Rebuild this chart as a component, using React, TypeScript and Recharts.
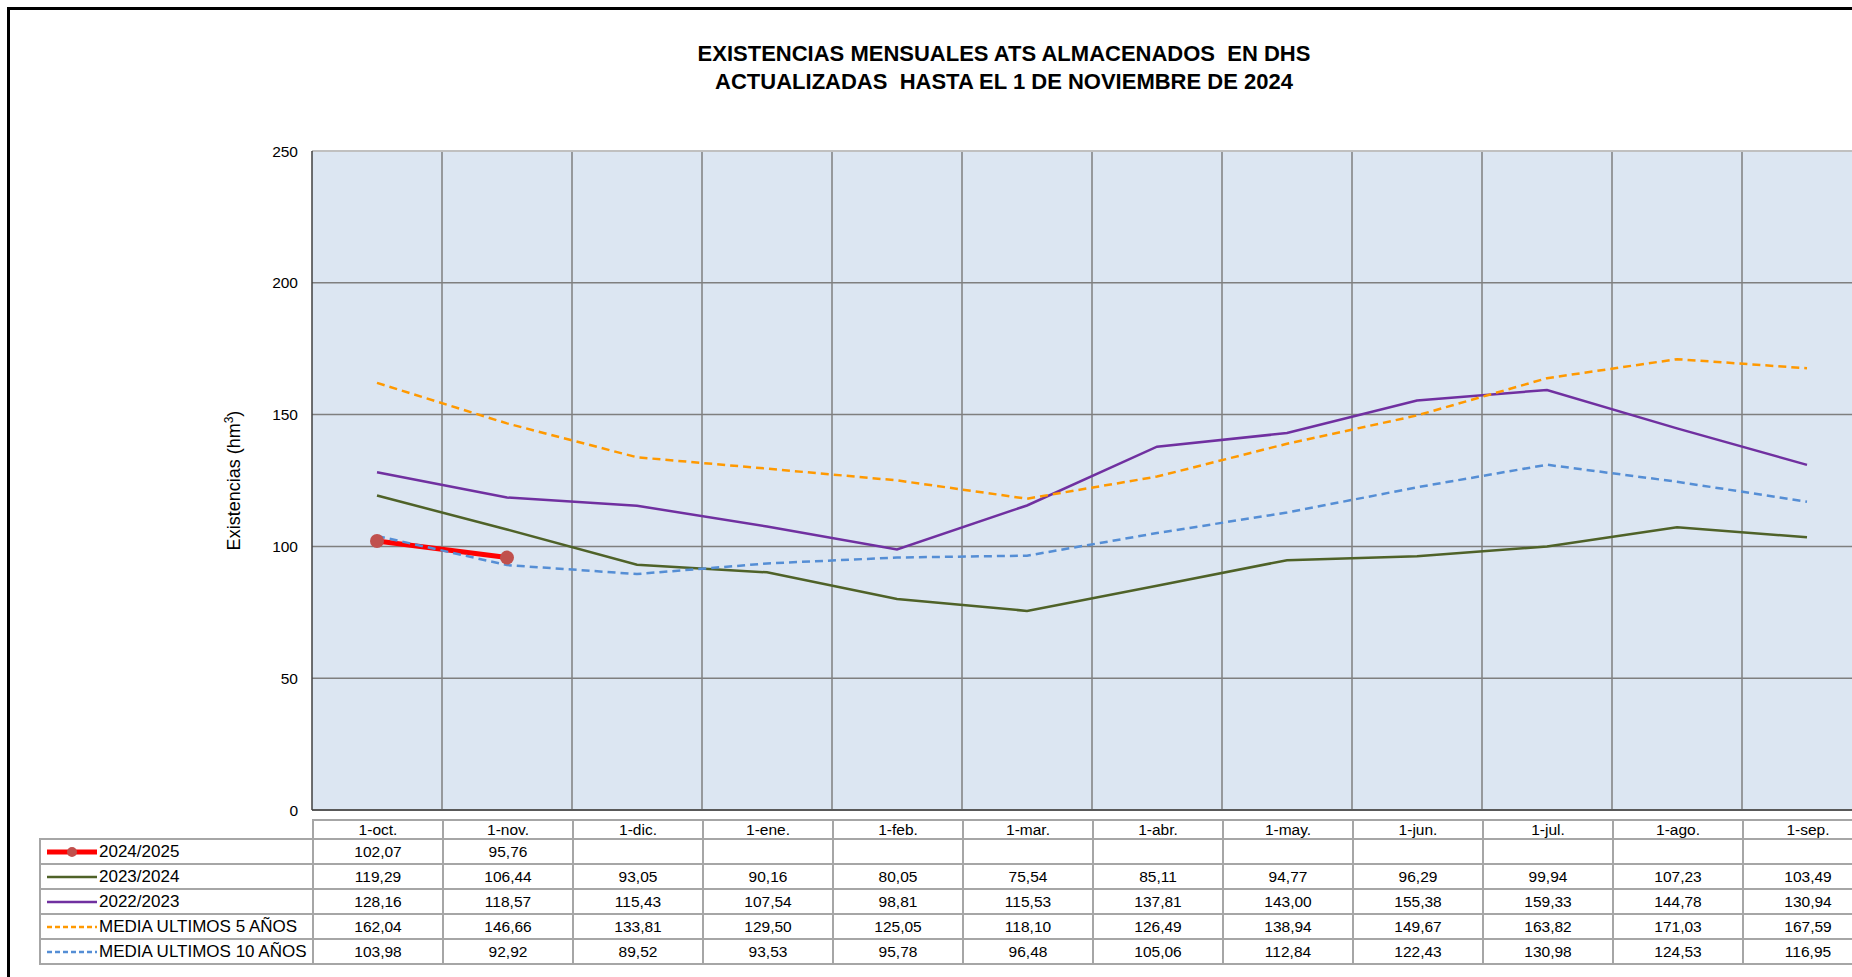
import React from "react";
import {
  LineChart,
  Line,
  XAxis,
  YAxis,
  CartesianGrid,
  ReferenceLine,
} from "recharts";

const months = [
  "1-oct.",
  "1-nov.",
  "1-dic.",
  "1-ene.",
  "1-feb.",
  "1-mar.",
  "1-abr.",
  "1-may.",
  "1-jun.",
  "1-jul.",
  "1-ago.",
  "1-sep.",
];

const s2024_2025: (number | null)[] = [102.07, 95.76, null, null, null, null, null, null, null, null, null, null];
const s2023_2024 = [119.29, 106.44, 93.05, 90.16, 80.05, 75.54, 85.11, 94.77, 96.29, 99.94, 107.23, 103.49];
const s2022_2023 = [128.16, 118.57, 115.43, 107.54, 98.81, 115.53, 137.81, 143.0, 155.38, 159.33, 144.78, 130.94];
const media5 = [162.04, 146.66, 133.81, 129.5, 125.05, 118.1, 126.49, 138.94, 149.67, 163.82, 171.03, 167.59];
const media10 = [103.98, 92.92, 89.52, 93.53, 95.78, 96.48, 105.06, 112.84, 122.43, 130.98, 124.53, 116.95];

const yTicks = [0, 50, 100, 150, 200, 250];

type Serie = {
  key: string;
  name: string;
  values: (number | null)[];
  color: string;
  width: number;
  dash?: string;
  dot?: boolean;
};

const series: Serie[] = [
  { key: "s2425", name: "2024/2025", values: s2024_2025, color: "#ff0000", width: 5, dot: true },
  { key: "s2324", name: "2023/2024", values: s2023_2024, color: "#4f6228", width: 2.5 },
  { key: "s2223", name: "2022/2023", values: s2022_2023, color: "#7030a0", width: 2.5 },
  { key: "m5", name: "MEDIA ULTIMOS 5 AÑOS", values: media5, color: "#ff9900", width: 2.5, dash: "8 5" },
  { key: "m10", name: "MEDIA ULTIMOS 10 AÑOS", values: media10, color: "#558ed5", width: 2.5, dash: "8 5" },
];

const data = months.map((m, i) => {
  const row: Record<string, string | number | null> = { mes: m };
  series.forEach((s) => {
    row[s.key] = s.values[i];
  });
  return row;
});

const fmt = (v: number | null) => (v == null ? "" : v.toFixed(2).replace(".", ","));

const FONT = "'Liberation Sans', Arial, sans-serif";
const BORDER = "2px solid #a6a6a6";
const COL_W = 130;
const LEG_W = 273;

function YLabel(props: any) {
  const vb = props.viewBox || { x: 0, y: 0, height: 0 };
  const cx = vb.x - 12;
  const cy = vb.y + vb.height / 2;
  return (
    <text
      x={cx}
      y={cy}
      transform={`rotate(-90 ${cx} ${cy})`}
      textAnchor="middle"
      fontSize={18}
      fill="#000"
      fontFamily={FONT}
    >
      Existencias (hm<tspan dy={-7} fontSize={12}>3</tspan>
      <tspan dy={7}>)</tspan>
    </text>
  );
}

function Glyph({ s }: { s: Serie }) {
  return (
    <svg width={54} height={14} style={{ display: "block", flex: "none" }}>
      <line
        x1={2}
        y1={7}
        x2={52}
        y2={7}
        stroke={s.color}
        strokeWidth={s.dot ? 5 : 2.5}
        strokeDasharray={s.dash ? "5 3" : undefined}
      />
      {s.dot && <circle cx={27} cy={7} r={5} fill="#c0504d" />}
    </svg>
  );
}

export default function App() {
  return (
    <div
      style={{
        position: "absolute",
        left: 0,
        top: 0,
        width: 1852,
        height: 977,
        overflow: "hidden",
        background: "#fff",
        fontFamily: FONT,
      }}
    >
      <div
        style={{
          position: "absolute",
          left: 7,
          top: 7,
          width: 1900,
          height: 1000,
          border: "3px solid #000",
        }}
      />
      <div
        style={{
          position: "absolute",
          left: 0,
          top: 40,
          width: 2008,
          textAlign: "center",
          fontWeight: "bold",
          fontSize: 22,
          lineHeight: "28px",
          color: "#000",
        }}
      >
        EXISTENCIAS MENSUALES ATS ALMACENADOS&nbsp; EN DHS
        <br />
        ACTUALIZADAS&nbsp; HASTA EL 1 DE NOVIEMBRE DE 2024
      </div>

      <div style={{ position: "absolute", left: 0, top: 0 }}>
        <LineChart
          width={1900}
          height={830}
          data={data}
          margin={{ top: 151, right: 28, bottom: 20, left: 252 }}
        >
          <CartesianGrid
            fill="#dce6f2"
            stroke="#7f7f7f"
            strokeWidth={1.5}
            verticalCoordinatesGenerator={({ offset }: any) =>
              months.map((_, i) => offset.left + (i * offset.width) / months.length).slice(1)
            }
          />
          <XAxis dataKey="mes" hide padding={{ left: COL_W / 2, right: COL_W / 2 }} />
          <YAxis
            domain={[0, 250]}
            ticks={yTicks}
            width={60}
            tickLine={false}
            tickMargin={8}
            axisLine={{ stroke: "#404040", strokeWidth: 1.5 }}
            tick={{ fontSize: 15.5, fill: "#000", fontFamily: FONT }}
            label={<YLabel />}
          />
          <ReferenceLine y={250} stroke="#c0c0c0" strokeWidth={2} />
          <ReferenceLine y={0} stroke="#595959" strokeWidth={2} />
          {series.map((s) => (
            <Line
              key={s.key}
              type="linear"
              dataKey={s.key}
              name={s.name}
              stroke={s.color}
              strokeWidth={s.width}
              strokeDasharray={s.dash}
              dot={s.dot ? { r: 7, fill: "#c0504d", stroke: "none" } : false}
              activeDot={false}
              connectNulls={false}
              isAnimationActive={false}
            />
          ))}
        </LineChart>
      </div>

      <table
        style={{
          position: "absolute",
          left: 39,
          top: 819,
          borderCollapse: "collapse",
          tableLayout: "fixed",
          width: LEG_W + COL_W * months.length,
          fontSize: 15.5,
          color: "#000",
        }}
      >
        <colgroup>
          <col style={{ width: LEG_W }} />
          {months.map((m) => (
            <col key={m} style={{ width: COL_W }} />
          ))}
        </colgroup>
        <tbody>
          <tr style={{ height: 19 }}>
            <td style={{ border: "none", padding: 0 }} />
            {months.map((m) => (
              <td key={m} style={{ border: BORDER, textAlign: "center", padding: 0, lineHeight: "16px" }}>
                {m}
              </td>
            ))}
          </tr>
          {series.map((s) => (
            <tr key={s.key} style={{ height: 25 }}>
              <td style={{ border: BORDER, padding: "0 0 0 4px", lineHeight: "20px" }}>
                <div style={{ display: "flex", alignItems: "center", whiteSpace: "nowrap" }}>
                  <Glyph s={s} />
                  <span style={{ fontSize: 17 }}>{s.name}</span>
                </div>
              </td>
              {s.values.map((v, i) => (
                <td key={i} style={{ border: BORDER, textAlign: "center", padding: 0 }}>
                  {fmt(v)}
                </td>
              ))}
            </tr>
          ))}
        </tbody>
      </table>
    </div>
  );
}
